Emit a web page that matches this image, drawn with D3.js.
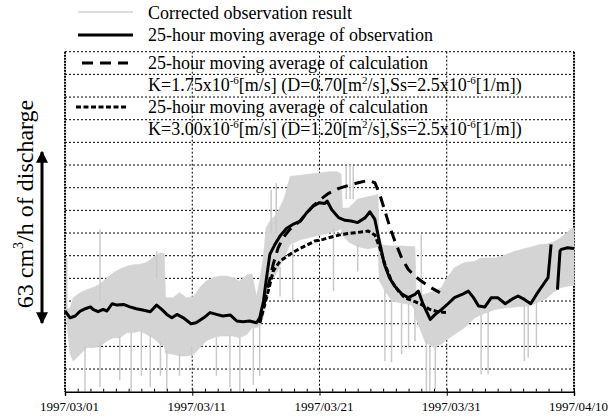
<!DOCTYPE html>
<html><head><meta charset="utf-8">
<script src="https://cdn.jsdelivr.net/npm/d3@7"></script>
<style>html,body{margin:0;padding:0;background:#fff;}</style>
</head><body><svg id="c" width="610" height="419"></svg>
<script>
// ---- data (x in days after 1997/03/01, y in grid units of the chart) ----
const tickDays = [0, 10, 20, 30, 40];
const tickLabels = ["1997/03/01", "1997/03/11", "1997/03/21", "1997/03/31", "1997/04/10"];

const obsDay = [0,0.4,0.8,1.2,1.6,2.0,2.2,2.6,3.0,3.3,3.7,4.1,4.6,5.1,5.6,6.2,6.7,7.2,7.6,8.0,8.4,8.8,9.3,9.9,10.3,10.9,11.4,11.9,12.4,13.0,13.5,14.0,14.5,15.05,15.3,15.6,15.8,16.1,16.5,16.9,17.4,17.9,18.5,19.0,19.5,20.0,20.4,20.6,20.95,21.5,22.0,22.5,23.0,23.6,23.96,24.35,24.7,25.1,25.5,25.9,26.45,26.97,27.5,27.76,28.15,28.7,29.1,29.6,30.1,30.6,31.2,31.7,32.1,32.5,33.0,33.5,34.0,34.6,35.1,35.6,36.1,36.6,37.05,37.6,37.96,38.2,38.45,38.7,38.9,39.0,39.5,40];
const obsVal = [3.56,3.26,3.34,3.56,3.66,3.74,3.63,3.53,3.63,3.56,3.88,3.82,3.85,3.74,3.66,3.59,3.53,3.82,3.63,3.41,3.26,3.41,3.26,3.0,3.04,3.26,3.49,3.41,3.34,3.38,3.12,3.09,3.12,3.04,3.26,4.0,4.88,6.06,6.5,6.87,7.2,7.38,7.53,7.9,8.19,8.34,8.3,8.41,8.04,7.68,7.56,7.53,7.46,7.68,7.94,7.6,6.65,5.62,5.03,4.66,4.32,4.15,4.29,4.44,3.85,3.19,3.41,3.63,3.88,4.15,4.29,4.44,4.15,3.78,3.74,4.15,4.15,3.88,4.07,4.22,4.07,3.88,4.29,4.74,5.03,6.5,null,4.5,6.2,6.28,6.35,6.32];

const calc1Day = [15.3,15.7,16.0,16.36,16.75,17.15,17.67,18.5,19.5,20.0,20.69,21.47,22.26,23.04,23.83,24.35,24.74,25.14,25.53,25.92,26.45,26.97,27.5,28.0,28.67,29.46];
const calc1Val = [3.04,4.0,4.74,5.62,6.35,6.8,7.16,7.55,8.2,8.45,8.74,8.96,9.1,9.22,9.32,9.22,8.7,7.97,7.26,6.65,5.91,5.4,5.1,4.88,4.62,4.37];

const calc2Day = [15.3,15.7,16.0,16.36,16.9,17.67,18.46,19.24,19.64,20.3,20.69,21.73,22.78,23.83,24.35,24.74,25.14,25.66,26.2,26.7,27.5,28.0,28.67,29.3,29.98];
const calc2Val = [3.04,3.85,4.5,5.32,5.76,6.06,6.32,6.53,6.65,6.72,6.79,6.94,7.01,7.09,6.91,6.35,5.62,4.88,4.44,4.15,3.97,3.85,3.63,3.53,3.49];

// envelope of the corrected observation (dense hourly band)
const greyDay  = [0.05,0.4,0.65,1.2,1.7,2.2,2.75,3.3,3.8,4.3,4.85,5.4,5.9,6.4,6.9,7.5,7.8,7.9,8.5,9.0,9.55,10.1,10.6,11.1,11.65,12.2,12.7,13.2,13.7,14.3,14.7,15.05,15.3,15.6,15.8,16.2,16.6,17.2,17.7,18.5,19.2,20.0,20.7,21.4,21.7,21.8,22.3,23.0,23.8,24.6,24.7,25.2,25.7,26.5,27.2,27.5,27.6,28.3,29.0,29.6,29.85,30.6,31.4,32.2,32.7,33.8,34.3,35.35,36.4,37.4,37.8,38.4,39.0,39.9,40];
const greyHigh = [3.6,3.7,4.15,4.37,4.5,4.6,4.74,5.03,5.25,5.4,5.54,5.6,5.62,5.7,5.9,6.13,6.1,4.15,4.15,4.37,4.15,4.2,4.6,4.88,5.03,5.1,5.1,5.03,4.88,5.15,5.2,4.2,4.9,6.0,7.24,7.6,7.8,8.5,9.5,9.55,9.6,9.65,9.7,9.7,9.6,8.1,8.1,8.5,8.6,8.7,6.5,6.45,6.43,6.43,6.4,6.4,4.2,4.3,4.44,4.6,4.88,5.47,5.7,5.75,5.9,5.9,5.97,6.2,6.35,6.5,6.5,6.6,6.8,7.24,7.2];
const greyLow  = [3.5,1.65,1.35,1.65,1.94,1.94,2.0,2.24,2.38,2.38,2.6,2.6,2.68,2.53,2.38,2.1,2.0,1.7,1.65,1.58,1.58,1.65,1.94,2.24,2.38,2.46,2.46,2.46,2.38,2.53,2.82,2.82,2.9,3.3,4.2,4.9,5.2,5.9,6.5,6.7,6.8,6.9,7.0,7.1,7.2,6.9,6.6,6.4,6.3,6.4,4.9,4.4,4.0,3.9,3.85,3.6,3.2,2.2,1.94,2.1,2.24,2.53,2.82,3.26,3.4,3.63,3.67,3.74,3.78,4.0,4.1,4.4,4.6,4.7,4.7];

// isolated spikes of the corrected observation
const spikeDay = [0.13,1.57,2.75,2.75,4.3,5.2,6.0,6.7,7.2,7.5,8.0,9.0,9.95,11.9,12.96,13.74,14.8,15.3,16.2,16.6,16.9,17.9,21.1,22.1,22.4,22.65,23.0,25.14,25.66,26.45,27.0,27.5,28.0,28.4,28.67,29.1,32.7,33.25,36.1,36.4,37.05];
const spikeLo  = [3.5,0.0,0.2,4.0,0.5,0.0,0.7,0.2,5.0,0.7,0.1,0.7,1.5,0.7,0.2,0.0,0.3,0.7,7.0,7.0,4.2,4.0,4.44,8.5,8.5,8.5,5.3,1.35,1.3,1.65,1.94,2.24,4.0,0.0,0.0,0.1,0.76,0.76,1.35,1.5,1.94];
const spikeHi  = [5.9,2.0,2.2,7.16,2.5,2.6,2.7,2.5,6.2,2.2,1.8,1.7,2.0,2.4,2.5,2.4,2.8,3.0,8.9,9.2,5.5,6.5,7.2,9.95,10.0,9.95,6.5,4.5,4.0,3.9,3.9,3.7,6.94,2.3,2.0,2.0,3.4,3.5,3.8,3.8,4.0];

// ---- layout ----
const FONT = '"Liberation Serif"';
const svg = d3.select("#c");
const X0 = 65, X1 = 574, Y0 = 391.7, Y1 = 51.7;
const x = d3.scaleLinear().domain([0, 40]).range([X0, X1]);
const y = d3.scaleLinear().domain([0, 15]).range([Y0, Y1]);

// grid
const grid = svg.append("g").attr("stroke", "#000").attr("stroke-width", 1).attr("stroke-dasharray", "2,2");
grid.selectAll("line.h").data(d3.range(1, 16)).join("line")
  .attr("x1", X0).attr("x2", X1).attr("y1", d => y(d)).attr("y2", d => y(d));
grid.selectAll("line.v").data([10, 20, 30]).join("line")
  .attr("x1", d => x(d)).attr("x2", d => x(d)).attr("y1", Y1).attr("y2", Y0);
svg.append("line").attr("x1", X1).attr("x2", X1).attr("y1", Y1).attr("y2", Y0)
  .attr("stroke", "#000").attr("stroke-width", 2).attr("stroke-dasharray", "2,1");
svg.append("line").attr("x1", X0).attr("x2", X0).attr("y1", Y1).attr("y2", Y0)
  .attr("stroke", "#000").attr("stroke-width", 2).attr("stroke-dasharray", "2,1");

// grey observation
const greyData = greyDay.map((d, i) => ({d, hi: greyHigh[i], lo: greyLow[i]}));
svg.append("path").datum(greyData)
  .attr("d", d3.area().x(p => x(p.d)).y0(p => y(p.lo)).y1(p => y(p.hi)))
  .attr("fill", "#d4d4d4").attr("stroke", "#d4d4d4").attr("stroke-width", 0.6);
svg.append("g").attr("stroke", "#cacaca").attr("stroke-width", 1.5)
  .selectAll("line").data(spikeDay.map((d, i) => ({d, lo: spikeLo[i], hi: spikeHi[i]}))).join("line")
  .attr("x1", p => x(p.d)).attr("x2", p => x(p.d)).attr("y1", p => y(p.lo)).attr("y2", p => y(p.hi));

// lines
const line = d3.line().defined(p => p.v != null).x(p => x(p.d)).y(p => y(p.v));
svg.append("path").datum(calc2Day.map((d, i) => ({d, v: calc2Val[i]})))
  .attr("d", line).attr("fill", "none").attr("stroke", "#000").attr("stroke-width", 3).attr("stroke-dasharray", "5,2.5");
svg.append("path").datum(obsDay.map((d, i) => ({d, v: obsVal[i]})))
  .attr("d", line).attr("fill", "none").attr("stroke", "#000").attr("stroke-width", 3).attr("stroke-linejoin", "round");
svg.append("path").datum(calc1Day.map((d, i) => ({d, v: calc1Val[i]})))
  .attr("d", line).attr("fill", "none").attr("stroke", "#000").attr("stroke-width", 3).attr("stroke-dasharray", "11,7");

// x axis
const ax = svg.append("g").attr("transform", `translate(0,${Y0})`);
ax.call(d3.axisBottom(x).tickValues(tickDays).tickFormat((d, i) => tickLabels[i]).tickSize(4).tickPadding(6));
ax.attr("font-family", null).attr("font-size", null);
ax.select(".domain").attr("stroke-width", 1.5);
ax.selectAll("text").attr("font-size", 13).style("font-family", FONT).attr("fill", "#000").attr("dx", 4);
const minor = svg.append("g").attr("transform", `translate(0,${Y0})`);
minor.call(d3.axisTop(x).tickValues(d3.range(0, 41)).tickFormat("").tickSize(3));
minor.select(".domain").remove();

// legend
const fs = 18;
const leg = svg.append("g");
function legText(xx, yy) {
  return leg.append("text").attr("x", xx).attr("y", yy).attr("font-size", fs).attr("fill", "#000").style("font-family", FONT);
}
leg.append("line").attr("x1", 78).attr("x2", 133).attr("y1", 12).attr("y2", 12).attr("stroke", "#bbb").attr("stroke-width", 1);
legText(148, 19).text("Corrected observation result");
leg.append("line").attr("x1", 78).attr("x2", 133).attr("y1", 35).attr("y2", 35).attr("stroke", "#000").attr("stroke-width", 3);
legText(148, 41).text("25-hour moving average of observation");
leg.append("line").attr("x1", 82).attr("x2", 128).attr("y1", 63).attr("y2", 63).attr("stroke", "#000").attr("stroke-width", 3).attr("stroke-dasharray", "11,7");
legText(148, 69).text("25-hour moving average of calculation");
function kText(yy, k, dval) {
  const t = legText(148, yy);
  t.append("tspan").text("K=" + k + "x10");
  t.append("tspan").attr("font-size", 11).attr("dy", -7).text("-6");
  t.append("tspan").attr("dy", 7).text("[m/s] (D=" + dval + "[m");
  t.append("tspan").attr("font-size", 11).attr("dy", -7).text("2");
  t.append("tspan").attr("dy", 7).text("/s],Ss=2.5x10");
  t.append("tspan").attr("font-size", 11).attr("dy", -7).text("-6");
  t.append("tspan").attr("dy", 7).text("[1/m])");
}
kText(91, "1.75", "0.70");
leg.append("line").attr("x1", 76).attr("x2", 128).attr("y1", 107).attr("y2", 107).attr("stroke", "#000").attr("stroke-width", 3).attr("stroke-dasharray", "5,2.5");
legText(148, 113).text("25-hour moving average of calculation");
kText(135, "3.00", "1.20");

// y label and arrow
const yl = svg.append("text").attr("transform", "translate(33,204) rotate(-90)")
  .attr("text-anchor", "middle").attr("font-size", 24).attr("fill", "#000").style("font-family", FONT);
yl.append("tspan").text("63 cm");
yl.append("tspan").attr("font-size", 14).attr("dy", -10).text("3");
yl.append("tspan").attr("dy", 10).text("/h of discharge");
const defs = svg.append("defs");
defs.append("marker").attr("id", "ah").attr("viewBox", "0 0 10 10").attr("refX", 9).attr("refY", 5)
  .attr("markerWidth", 4).attr("markerHeight", 4).attr("orient", "auto-start-reverse")
  .append("path").attr("d", "M0,0L10,5L0,10z").attr("fill", "#000");
svg.append("line").attr("x1", 42).attr("x2", 42).attr("y1", 152).attr("y2", 323)
  .attr("stroke", "#000").attr("stroke-width", 3)
  .attr("marker-start", "url(#ah)").attr("marker-end", "url(#ah)");
</script></body></html>
